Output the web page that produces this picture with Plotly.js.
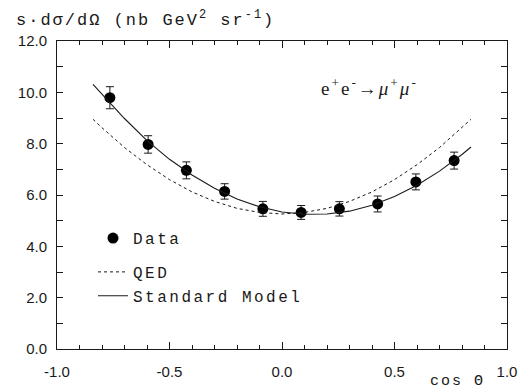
<!DOCTYPE html>
<html>
<head>
<meta charset="utf-8">
<script src="https://cdn.plot.ly/plotly-3.0.1.min.js"></script>
<style>
html,body{margin:0;padding:0;background:#fff;}
#chart{width:524px;height:390px;}
.legendtext{letter-spacing:2.5px;}
.annotation-text{letter-spacing:2px;}
</style>
</head>
<body>
<div id="chart"></div>
<script>
// Data points (bin centres in cos Theta) and measured values
const dataCos = [-0.765, -0.595, -0.425, -0.255, -0.085, 0.085, 0.255, 0.425, 0.595, 0.765];
const dataVal = [9.79, 7.97, 6.96, 6.14, 5.46, 5.32, 5.46, 5.65, 6.51, 7.34];
const dataErr = [0.43, 0.34, 0.33, 0.30, 0.29, 0.27, 0.28, 0.31, 0.31, 0.33];

// Curves
const curveCos = [-0.84, -0.8, -0.7, -0.6, -0.5, -0.4, -0.3, -0.2, -0.1, 0.0, 0.1, 0.2, 0.3, 0.4, 0.5, 0.6, 0.7, 0.8, 0.84];
const qedVal  = [8.95, 8.62, 7.85, 7.18, 6.60, 6.12, 5.75, 5.48, 5.32, 5.26, 5.32, 5.48, 5.75, 6.12, 6.60, 7.18, 7.85, 8.62, 8.95];
const smVal   = [10.31, 9.92, 8.98, 8.12, 7.39, 6.78, 6.26, 5.84, 5.54, 5.34, 5.25, 5.26, 5.37, 5.60, 5.94, 6.38, 6.93, 7.58, 7.87];

const xTickVals = [-1.0, -0.5, 0.0, 0.5, 1.0];
const xTickText = ['-1.0', '-0.5', '0.0', '0.5', '1.0'];
const yTickVals = [0, 2, 4, 6, 8, 10, 12];
const yTickText = ['0.0', '2.0', '4.0', '6.0', '8.0', '10.0', '12.0'];

const ink = '#1a1a1a';
const mono = '"Liberation Mono", "DejaVu Sans Mono", monospace';
const numFont = '"Liberation Sans", Arial, sans-serif';

const traces = [
  {
    x: dataCos, y: dataVal, type: 'scatter', mode: 'markers', name: 'Data',
    marker: {color: '#000', size: 11, symbol: 'circle'},
    error_y: {type: 'data', array: dataErr, visible: true, color: ink, thickness: 1, width: 4},
    legendrank: 1, legendgroup: 'a'
  },
  {
    x: curveCos, y: qedVal, type: 'scatter', mode: 'lines', name: 'QED',
    line: {color: ink, width: 1, dash: '3px,3px'}, legendrank: 2, legendgroup: 'b'
  },
  {
    x: curveCos, y: smVal, type: 'scatter', mode: 'lines', name: 'Standard Model',
    line: {color: ink, width: 1.1}, legendrank: 3, legendgroup: 'b'
  }
];

const layout = {
  width: 524, height: 390,
  margin: {l: 57, r: 17, t: 41, b: 41},
  paper_bgcolor: '#fff', plot_bgcolor: '#fff',
  showlegend: true,
  legend: {
    x: 0.08, y: 0.415, xanchor: 'left', yanchor: 'top',
    font: {family: mono, size: 16, color: ink},
    bgcolor: 'rgba(0,0,0,0)', tracegroupgap: 10, itemwidth: 30,
    traceorder: 'grouped'
  },
  xaxis: {
    range: [-1, 1], tickmode: 'array', tickvals: xTickVals, ticktext: xTickText,
    ticks: 'inside', ticklen: 7, tickcolor: ink, tickwidth: 1,
    showline: true, linecolor: ink, linewidth: 1, mirror: 'allticks',
    showgrid: false, zeroline: false,
    tickfont: {family: numFont, size: 15, color: ink},
    ticklabelstandoff: 9,
    minor: {dtick: 0.1, ticks: 'inside', ticklen: 4, tickcolor: ink, showgrid: false}
  },
  yaxis: {
    range: [0, 12], tickmode: 'array', tickvals: yTickVals, ticktext: yTickText,
    ticks: 'inside', ticklen: 6, tickcolor: ink, tickwidth: 1,
    showline: true, linecolor: ink, linewidth: 1, mirror: 'allticks',
    showgrid: false, zeroline: false,
    tickfont: {family: numFont, size: 15, color: ink},
    ticklabelstandoff: 6,
    minor: {dtick: 1, ticks: 'inside', ticklen: 6, tickcolor: ink, showgrid: false}
  },
  annotations: [
    {
      text: 's·dσ/dΩ (nb GeV<sup>2</sup> sr<sup>-1</sup>)', xref: 'paper', yref: 'paper',
      x: -0.095, y: 1.0, xanchor: 'left', yanchor: 'bottom', yshift: 9, showarrow: false,
      font: {family: mono, size: 17, color: ink}
    },
    {
      text: 'cos Θ', xref: 'paper', yref: 'paper',
      x: 0.955, y: 0, xanchor: 'right', yanchor: 'middle', yshift: -32, showarrow: false,
      font: {family: mono, size: 15, color: ink}
    },
    {
      text: 'e<sup>+</sup>e<sup>-</sup>→<i>μ</i><sup>+</sup><i>μ</i><sup>-</sup>', xref: 'paper', yref: 'paper',
      x: 0.695, y: 0.85, xanchor: 'center', yanchor: 'middle', showarrow: false,
      font: {family: '"Liberation Serif", "DejaVu Serif", serif', size: 19, color: ink}
    }
  ]
};

Plotly.newPlot('chart', traces, layout, {displayModeBar: false, staticPlot: true});
</script>
</body>
</html>
